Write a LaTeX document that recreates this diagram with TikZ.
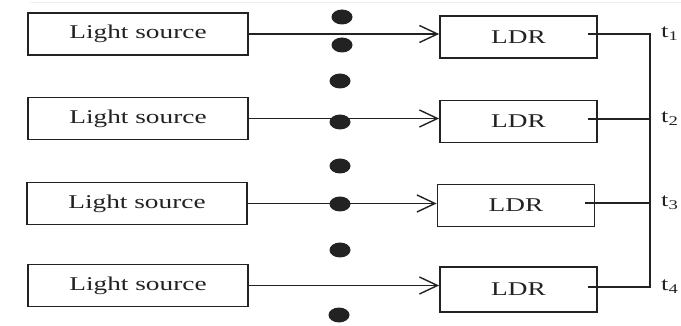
\documentclass[tikz,border=0pt]{standalone}
\usepackage{fontspec}
\setmainfont[FakeStretch=1.4]{Liberation Serif}
\usetikzlibrary{arrows.meta,shapes.geometric,calc}
\definecolor{ink}{HTML}{222222}
\begin{document}
\begin{tikzpicture}[x=1pt,y=-1pt,
  srcbox/.style={draw=ink,line width=1.8pt,minimum width=220pt,minimum height=42pt,inner sep=0pt,font=\fontsize{19.5}{22}\selectfont,text=ink},
  ldrbox/.style={draw=ink,line width=1.8pt,minimum width=157pt,minimum height=42pt,inner sep=0pt,font=\fontsize{19.5}{22}\selectfont,text=ink},
  dotmark/.style={ellipse,fill=ink,minimum width=21pt,minimum height=15pt,inner sep=0pt},
  wire/.style={draw=ink,line width=1.4pt},
  feed/.style={wire,-{Straight Barb[length=18pt,width=17pt,line width=1.4pt]}},
  tlabel/.style={anchor=west,inner sep=0pt,font=\fontsize{19}{22}\selectfont,text=ink}]
\useasboundingbox (0,0) rectangle (681,326);
\draw[gray!12,line width=1pt] (30,3) -- (681,3);
% light sources
\node[srcbox] (s1) at (138,34) {Light source};
\node[srcbox] (s2) at (138,118.5) {Light source};
\node[srcbox] (s3) at (137,203.5) {Light source};
\node[srcbox] (s4) at (138,285.5) {Light source};
% LDRs
\node[ldrbox] (l1) at (518.5,37) {LDR};
\node[ldrbox] (l2) at (518.5,121.5) {LDR};
\node[ldrbox] (l3) at (516,205.5) {LDR};
\node[ldrbox,minimum height=45pt] (l4) at (518.5,289.5) {LDR};
% feed lines
\draw[feed] (s1.east) -- (s1.east -| l1.west);
\draw[feed] (s2.east) -- (s2.east -| l2.west);
\draw[feed] (s3.east) -- (s3.east -| l3.west);
\draw[feed] (s4.east) -- (s4.east -| l4.west);
% dots
\node[dotmark] (d1) at (342,17) {};
\node[dotmark] (d2) at (342,45) {};
\node[dotmark] (d3) at (340,81) {};
\node[dotmark] (d4) at (340,122) {};
\node[dotmark] (d5) at (340,166) {};
\node[dotmark] (d6) at (340,204) {};
\node[dotmark] (d7) at (340,250) {};
\node[dotmark] (d8) at (339,315) {};
% outputs
\coordinate (bus) at (650,0);
\coordinate (o1) at ([xshift=-10pt]l1.east |- 0,34);
\coordinate (o2) at ([xshift=-10pt]l2.east |- 0,119);
\coordinate (o3) at ([xshift=-10pt]l3.east |- 0,203);
\coordinate (o4) at ([xshift=-10pt]l4.east |- 0,287);
\draw[wire] (o1) -- (o1 -| bus) -- (o4 -| bus) -- (o4);
\draw[wire] (o2) -- (o2 -| bus);
\draw[wire] (o3) -- (o3 -| bus);
\node[tlabel] (t1) at (661,34) {t\textsubscript{1}};
\node[tlabel] (t2) at (661,119) {t\textsubscript{2}};
\node[tlabel] (t3) at (661,203) {t\textsubscript{3}};
\node[tlabel] (t4) at (661,287) {t\textsubscript{4}};
\end{tikzpicture}
\end{document}
